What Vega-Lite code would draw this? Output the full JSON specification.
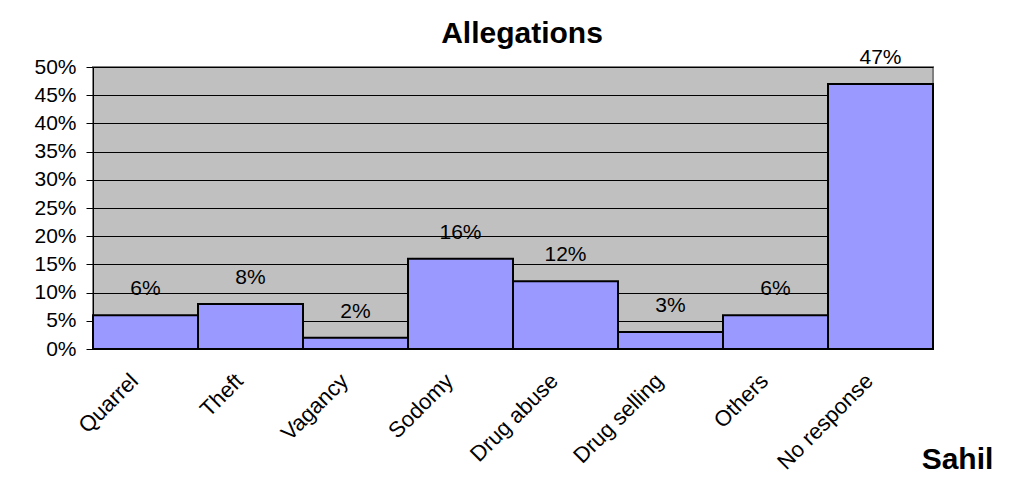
{
  "$schema": "https://vega.github.io/schema/vega-lite/v6.json",
  "autosize": "none",
  "width": 840,
  "height": 282,
  "padding": {"left": 93, "top": 67, "right": 91, "bottom": 150},
  "background": "white",
  "title": {
    "text": "Allegations",
    "font": "Liberation Sans",
    "fontSize": 30,
    "fontWeight": "bold",
    "color": "black",
    "anchor": "middle",
    "baseline": "alphabetic",
    "offset": 22,
    "dx": 9,
    "dy": 48
  },
  "data": {
    "values": [
      {"category": "Quarrel", "value": 0.06},
      {"category": "Theft", "value": 0.08},
      {"category": "Vagancy", "value": 0.02},
      {"category": "Sodomy", "value": 0.16},
      {"category": "Drug abuse", "value": 0.12},
      {"category": "Drug selling", "value": 0.03},
      {"category": "Others", "value": 0.06},
      {"category": "No response", "value": 0.47}
    ]
  },
  "encoding": {
    "x": {
      "field": "category",
      "type": "nominal",
      "sort": null,
      "scale": {"paddingInner": 0, "paddingOuter": 0},
      "axis": {
        "title": "Sahil",
        "titleFont": "Liberation Sans",
        "titleFontSize": 30,
        "titleFontWeight": "bold",
        "titleColor": "black",
        "titleX": 864,
        "titleY": 119,
        "titleAlign": "center",
        "titleBaseline": "alphabetic",
        "titleAngle": 0,
        "labelAngle": -45,
        "labelAlign": "right",
        "labelBaseline": "middle",
        "labelFont": "Liberation Sans",
        "labelFontSize": 22,
        "labelColor": "black",
        "labelPadding": 28,
        "labelOffset": -11,
        "ticks": false,
        "domainColor": "black",
        "domainWidth": 1,
        "grid": false
      }
    },
    "y": {
      "field": "value",
      "type": "quantitative",
      "scale": {"domain": [0, 0.5], "nice": false},
      "axis": {
        "title": null,
        "format": ".0%",
        "values": [0, 0.05, 0.1, 0.15, 0.2, 0.25, 0.3, 0.35, 0.4, 0.45, 0.5],
        "labelFont": "Liberation Sans",
        "labelFontSize": 21,
        "labelColor": "black",
        "labelPadding": 10,
        "tickSize": 7,
        "tickColor": "black",
        "domainColor": "black",
        "domainWidth": 1,
        "grid": true,
        "gridColor": "black",
        "gridWidth": 1,
        "gridOpacity": 1
      }
    }
  },
  "layer": [
    {
      "mark": {"type": "bar", "fill": "#9999FF", "stroke": "black", "strokeWidth": 2}
    },
    {
      "mark": {"type": "text", "baseline": "alphabetic", "dy": -20, "font": "Liberation Sans", "fontSize": 21, "color": "black"},
      "encoding": {"text": {"field": "value", "type": "quantitative", "format": ".0%"}}
    }
  ],
  "config": {
    "view": {"fill": "#C0C0C0", "stroke": "#808080", "strokeWidth": 2}
  }
}
